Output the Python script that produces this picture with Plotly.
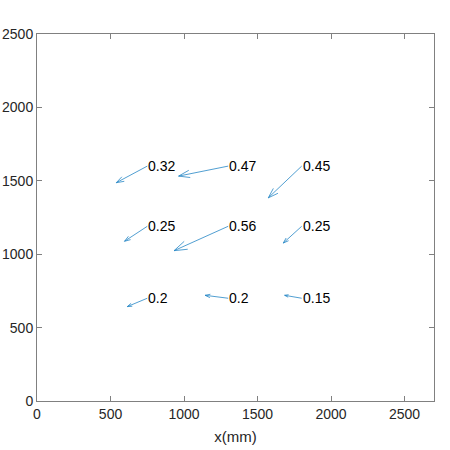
import numpy as np
import plotly.graph_objects as go

# arrow tails (data coords)
x0 = [750, 1300, 1800, 750, 1300, 1800, 750, 1300, 1800]
y0 = [1600, 1600, 1600, 1190, 1190, 1190, 700, 700, 700]
# arrow components
u = [-211, -337, -227, -155, -368, -125, -136, -157, -116]
v = [-113, -68, -216, -102, -166, -114, -57, 20, 20]
labels = ["0.32", "0.47", "0.45", "0.25", "0.56", "0.25", "0.2", "0.2", "0.15"]

color = "#0072BD"
xs, ys = [], []
alpha, beta = 0.22, 0.33
for xt, yt, du, dv in zip(x0, y0, u, v):
    xh, yh = xt + du, yt + dv
    xs += [xt, xh, None]
    ys += [yt, yh, None]
    # MATLAB-style open head
    xs += [xh - alpha * (du + beta * dv), xh, xh - alpha * (du - beta * dv), None]
    ys += [yh - alpha * (dv - beta * du), yh, yh - alpha * (dv + beta * du), None]

fig = go.Figure()
fig.add_trace(go.Scatter(x=xs, y=ys, mode="lines",
                         line=dict(color=color, width=0.8), opacity=0.85,
                         hoverinfo="skip", showlegend=False))

for xt, yt, t in zip(x0, y0, labels):
    fig.add_annotation(x=xt, y=yt, text=t, showarrow=False,
                       xanchor="left", yanchor="middle", borderpad=0,
                       font=dict(family="Liberation Sans, Arial", size=14, color="#000000"))

axis_common = dict(showgrid=False, zeroline=False, showline=True, linecolor="#808080",
                   linewidth=1, mirror="ticks", ticks="inside", ticklen=5,
                   tickcolor="#808080", automargin=False,
                   tickfont=dict(family="Liberation Sans, Arial", size=14, color="#262626"))

fig.update_layout(
    width=450, height=450,
    margin=dict(l=37, r=16, t=34, b=49),
    paper_bgcolor="white", plot_bgcolor="white",
    xaxis=dict(range=[0, 2700], tickvals=[0, 500, 1000, 1500, 2000, 2500],
               title=dict(text="x(mm)", standoff=10,
                          font=dict(family="Liberation Sans, Arial", size=15, color="#262626")),
               **axis_common),
    yaxis=dict(range=[0, 2500], tickvals=[0, 500, 1000, 1500, 2000, 2500], **axis_common),
)

fig.write_html("out.html", config={"displayModeBar": False},
               post_script="document.body.style.margin='0';")
